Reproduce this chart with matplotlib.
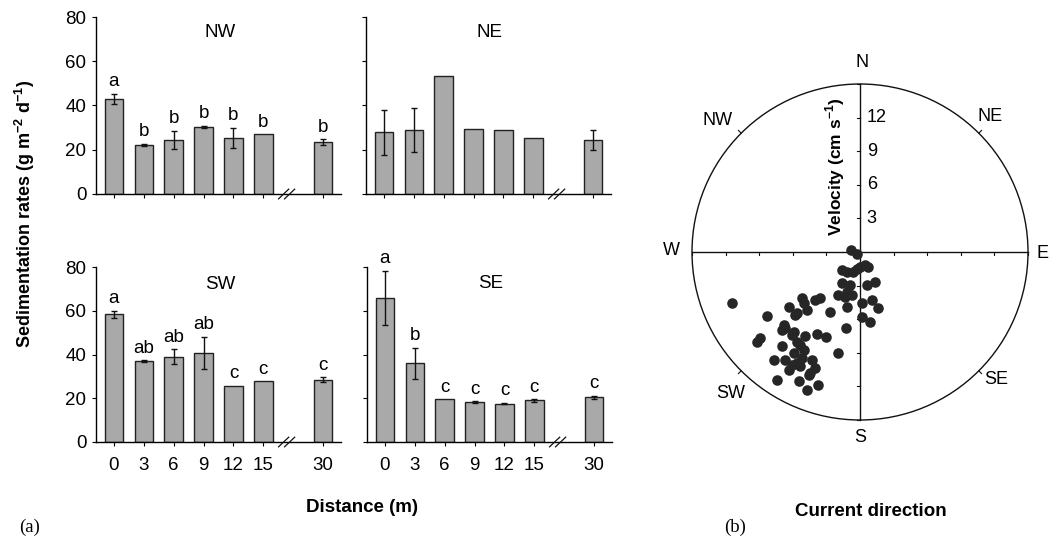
import numpy as np
import matplotlib
matplotlib.use("Agg")
import matplotlib.pyplot as plt
from matplotlib.patches import Circle

plt.rcParams['font.family'] = ['Liberation Sans', 'DejaVu Sans']
plt.rcParams['mathtext.fontset'] = 'custom'
plt.rcParams['mathtext.rm'] = 'Liberation Sans'
plt.rcParams['mathtext.bf'] = 'Liberation Sans:bold'

# --- data: sedimentation rates (g m-2 d-1) by distance (m) ---
distances = ["0", "3", "6", "9", "12", "15", "30"]

nw_mean = [43, 22, 24.5, 30.2, 25.2, 27, 23.4]
nw_err = [2.2, 0.5, 4, 0.5, 4.6, 0, 1.3]
nw_letters = ["a", "b", "b", "b", "b", "b", "b"]

ne_mean = [27.8, 28.9, 53.2, 29.5, 28.9, 25.5, 24.5]
ne_err = [10, 9.8, 0, 0, 0, 0, 4.5]
ne_letters = ["", "", "", "", "", "", ""]

sw_mean = [58.4, 37, 38.9, 40.7, 25.6, 27.7, 28.5]
sw_err = [1.5, 0.3, 3.4, 7.5, 0, 0, 1]
sw_letters = ["a", "ab", "ab", "ab", "c", "c", "c"]

se_mean = [65.9, 36, 19.5, 18.3, 17.5, 19, 20.5]
se_err = [12.4, 7, 0, 0.3, 0.3, 0.5, 0.7]
se_letters = ["a", "b", "c", "c", "c", "c", "c"]

# --- data: current velocity components (cm s-1), east and north ---
vel_east = [-0.83, -0.30, -1.63, -1.19, -0.59, 0.0, 0.74, 0.44, 1.33, 0.59,
            -0.89, -1.19, -1.93, -0.74, -1.19, 0.15, 1.04, 1.63, 0.15, 0.89,
            -2.67, -3.56, -4.0, -5.19, -6.37, -5.63, -4.74, -11.41, -8.30, -6.81,
            -6.96, -6.07, -3.85, -3.02, -4.89, -5.63, -8.89, -9.19, -6.96, -5.04,
            -1.93, -1.24, -7.70, -6.67, -5.63, -4.30, -4.0, -6.37, -5.33, -4.59,
            -5.48, -7.41, -4.74, -3.79, -5.93, -5.93, -4.44, -1.63, -5.04, -5.78,
            -6.67, -5.33, -6.07, -5.19, -1.33, -0.30]
vel_north = [0.15, -0.15, -1.63, -1.78, -1.78, -1.33, -1.33, -1.19, -2.67, -2.96,
             -2.96, -3.56, -3.85, -3.85, -4.89, -4.59, -4.30, -5.04, -5.78, -6.22,
             -5.39, -4.15, -4.30, -4.15, -4.89, -5.48, -5.19, -4.53, -5.69, -6.52,
             -6.96, -7.41, -7.32, -7.61, -7.47, -8.0, -7.70, -8.06, -8.39, -8.74,
             -9.04, -6.76, -9.63, -9.63, -9.93, -9.63, -10.37, -10.52, -10.22, -10.96,
             -11.56, -11.41, -12.30, -11.85, -9.04, -7.11, -10.81, -2.81, -4.59, -5.63,
             -6.81, -8.30, -10.07, -9.48, -4.0, -1.48]
vel_ticks = [3, 6, 9, 12]
compass = [("N", 0.15, 16.9), ("NW", -12.7, 11.7), ("NE", 11.6, 12.1),
           ("W", -16.8, 0.1), ("E", 16.3, -0.1), ("SW", -11.5, -12.6),
           ("SE", 12.2, -11.4), ("S", 0.0, -16.6)]

W, H = 1049, 538
fig = plt.figure(figsize=(W / 100, H / 100), dpi=100)

bar_color = "#a9a9a9"
pos = [0, 1, 2, 3, 4, 5, 7]


def px_axes(left, right, top, bottom):
    return fig.add_axes([left / W, 1 - bottom / H, (right - left) / W, (bottom - top) / H])


def bar_panel(ax, title, means, errs, letters, show_ylab, show_xlab, title_y):
    ax.bar(pos, means, width=0.62, color=bar_color, edgecolor="#222222", linewidth=1.0, zorder=2)
    for x, m, e, l in zip(pos, means, errs, letters):
        if e > 0:
            ax.errorbar(x, m, yerr=e, fmt="none", ecolor="#111111", elinewidth=1.0,
                        capsize=2.5, capthick=1.0, zorder=3)
        if l:
            ax.text(x, m + e + 3.5, l, ha="center", va="baseline", fontsize=13.5, clip_on=False)
    ax.set_xlim(-0.6, 7.6)
    ax.set_ylim(0, 80)
    ax.set_yticks([0, 20, 40, 60, 80])
    ax.set_xticks(pos)
    ax.set_xticklabels(distances if show_xlab else [])
    if not show_ylab:
        ax.set_yticklabels([])
    ax.tick_params(axis="both", direction="out", length=3, width=0.8, labelsize=13.5, pad=4)
    ax.tick_params(axis="x", pad=8)
    for s in ("top", "right"):
        ax.spines[s].set_visible(False)
    for s in ("left", "bottom"):
        ax.spines[s].set_linewidth(1.0)
    ax.text(3.55, title_y, title, ha="center", va="center", fontsize=13.5)
    # axis break mark
    bx = 5.78
    for d in (-0.1, 0.1):
        ax.plot([bx + d - 0.17, bx + d + 0.17], [-2.2, 2.2], color="#111111", lw=0.9,
                clip_on=False, zorder=4)


ax_nw = px_axes(96, 341, 17, 194)
ax_ne = px_axes(366, 611, 17, 194)
ax_sw = px_axes(96, 341, 267, 442)
ax_se = px_axes(367, 612, 267, 442)

bar_panel(ax_nw, "NW", nw_mean, nw_err, nw_letters, True, False, 73)
bar_panel(ax_ne, "NE", ne_mean, ne_err, ne_letters, False, False, 73)
bar_panel(ax_sw, "SW", sw_mean, sw_err, sw_letters, True, True, 72)
bar_panel(ax_se, "SE", se_mean, se_err, se_letters, False, True, 72.5)

fig.text(25 / W, 1 - 214 / H, r"Sedimentation rates (g m$^{\mathbf{-2}}$ d$^{\mathbf{-1}}$)",
         rotation=90, ha="center", va="center", fontsize=13, fontweight="bold")
fig.text(362 / W, 1 - 508 / H, "Distance (m)", ha="center", va="center",
         fontsize=13.5, fontweight="bold")
fig.text(30 / W, 1 - 527 / H, "(a)", ha="center", va="center", fontsize=13.5,
         family=["Liberation Serif", "DejaVu Serif"])

# --- current direction panel ---
cx, cy, r_px = 860, 252, 168
half = 190
lim = half / r_px * 15
axp = px_axes(cx - half, cx + half, cy - half, cy + half)
axp.set_xlim(-lim, lim)
axp.set_ylim(-lim, lim)
axp.axis("off")
axp.add_patch(Circle((0, 0), 15, fill=False, edgecolor="#111111", lw=1.0))
axp.plot([-15, 15], [0, 0], color="#111111", lw=1.0)
axp.plot([0, 0], [-15, 15], color="#111111", lw=1.0)
for t in range(-15, 16, 3):
    if t == 0:
        continue
    axp.plot([t, t], [0, -0.3], color="#111111", lw=0.8)
    axp.plot([-0.3, 0], [t, t], color="#111111", lw=0.8)
for ang in (45, 135, 225, 315):
    a = np.deg2rad(ang)
    axp.plot([15.0 * np.cos(a), 15.35 * np.cos(a)], [15.0 * np.sin(a), 15.35 * np.sin(a)],
             color="#111111", lw=0.8)
for v in vel_ticks:
    axp.text(0.6, v, str(v), ha="left", va="center", fontsize=13)
for lab, x, y in compass:
    axp.text(x, y, lab, ha="center", va="center", fontsize=13, clip_on=False)
axp.text(-2.2, 7.6, r"Velocity (cm s$^{\mathbf{-1}}$)", rotation=90, ha="center", va="center",
         fontsize=12.5, fontweight="bold")
axp.scatter(vel_east, vel_north, s=58, color="#262626", zorder=5, linewidths=0)

fig.text(871 / W, 1 - 512 / H, "Current direction", ha="center", va="center",
         fontsize=13.5, fontweight="bold")
fig.text(735 / W, 1 - 527 / H, "(b)", ha="center", va="center", fontsize=13.5,
         family=["Liberation Serif", "DejaVu Serif"])

fig.savefig("out.png", dpi=100)
